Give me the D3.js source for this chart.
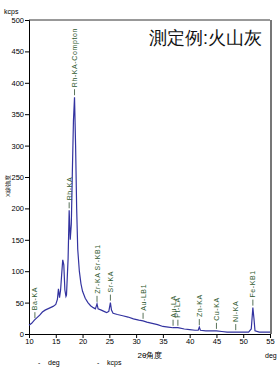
<!DOCTYPE html>
<html>
<head>
<meta charset="utf-8">
<script src="https://cdn.jsdelivr.net/npm/d3@7"></script>
<style>
  body { margin: 0; background: #fff; }
  svg { display: block; }
  text { font-family: "Liberation Sans", Arial, sans-serif; }
</style>
</head>
<body>
<svg id="chart" width="280" height="369"></svg>
<script>
// spectrum: 2theta (deg) and intensity (kcps)
const angles = [10.0, 10.5, 11.0, 11.5, 12.0, 12.5, 13.0, 13.5, 14.0, 14.5, 15.0, 15.3, 15.5, 15.7, 15.9, 16.1, 16.3, 16.5, 16.7, 16.9,
  17.0, 17.3, 17.5, 17.7, 17.9, 18.1, 18.3, 18.5, 18.7, 18.9, 19.1, 19.4, 19.7, 20.0, 20.5, 21.0, 21.5, 22.0, 22.4, 22.7,
  22.9, 23.5, 24.0, 24.5, 24.9, 25.2, 25.4, 25.7, 26.5, 27.5, 28.5, 29.5, 30.5, 31.3, 32.0, 33.0, 34.0, 35.0, 36.0, 36.9,
  37.8, 39.0, 40.0, 41.0, 41.6, 41.8, 42.0, 43.0, 44.0, 45.0, 46.0, 47.0, 48.6, 50.0, 51.0, 51.5, 51.8, 52.0, 52.2, 53.0, 55.0];
const intensity = [14, 17, 22, 26, 30, 35, 38, 40, 42, 44, 47, 55, 72, 58, 70, 95, 118, 110, 70, 60,
  62, 120, 197, 150, 175, 260, 340, 377, 300, 200, 135, 100, 80, 68, 57, 50, 45, 42, 40, 48,
  40, 38, 36, 34, 36, 50, 38, 33, 31, 29, 27, 24, 22, 21, 19, 17, 15, 12, 11, 10,
  10, 8, 7, 6, 6, 11, 6, 5, 5, 5, 4, 3, 3, 3, 3, 8, 42, 25, 5, 3, 3];

// peak labels
const peakNames = ["Ba-KA", "Rh-KA", "Rh-KA-Compton", "Zr-KA Sr-KB1", "Sr-KA", "Au-LB1",
  "Au-LA", "Pt-LA", "Zn-KA", "Cu-KA", "Ni-KA", "Fe-KB1"];
const peakAngles = [11.1, 17.5, 18.5, 22.7, 25.2, 31.3, 36.9, 37.8, 41.8, 45.0, 48.6, 51.8];

const xTicks = d3.range(10, 56, 5);
const yTicks = d3.range(0, 501, 50);

const svg = d3.select("#chart");
const margin = {left: 29, right: 10, top: 20, bottom: 35};
const width = 280, height = 369;

const x = d3.scaleLinear().domain([10, 55]).range([margin.left, width - margin.right]);
const y = d3.scaleLinear().domain([0, 500]).range([height - margin.bottom, margin.top]);

// frame: top and right borders
svg.append("line")
  .attr("x1", x(10)).attr("x2", x(55))
  .attr("y1", y(500)).attr("y2", y(500))
  .attr("stroke", "#333").attr("stroke-width", 1);
svg.append("line")
  .attr("x1", x(55) + 1).attr("x2", x(55) + 1)
  .attr("y1", y(500)).attr("y2", y(0))
  .attr("stroke", "#777").attr("stroke-width", 2);

// axes
const xAxis = svg.append("g")
  .attr("transform", `translate(0,${y(0)})`)
  .call(d3.axisBottom(x).tickValues(xTicks).tickSize(4).tickPadding(1));
const yAxis = svg.append("g")
  .attr("transform", `translate(${x(10)},0)`)
  .call(d3.axisLeft(y).tickValues(yTicks).tickSize(4).tickPadding(1));
[xAxis, yAxis].forEach(g => {
  g.selectAll("text").attr("font-size", 7.5).attr("fill", "#000")
    .attr("font-family", "Liberation Sans, Arial, sans-serif");
  g.selectAll("line, path").attr("stroke", "#000");
});

// spectrum
const pts = angles.map((a, i) => [a, intensity[i]]);
svg.append("path")
  .datum(pts)
  .attr("fill", "none")
  .attr("stroke", "#3333a0")
  .attr("stroke-width", 1.2)
  .attr("d", d3.line().x(d => x(d[0])).y(d => y(d[1])));

// peak markers
function topNear(a) {
  const near = pts.filter(p => Math.abs(p[0] - a) <= 0.25);
  return d3.max(near, p => p[1]);
}
peakNames.forEach((name, i) => {
  const a = peakAngles[i];
  const base = y(topNear(a)) - 2;
  svg.append("line")
    .attr("x1", x(a)).attr("x2", x(a))
    .attr("y1", base).attr("y2", base - 6)
    .attr("stroke", "#2f4f2f").attr("stroke-width", 0.8);
  svg.append("text")
    .attr("transform", `translate(${x(a) + 2.5},${base - 8}) rotate(-90)`)
    .attr("font-size", 7)
    .attr("letter-spacing", 0.6)
    .attr("fill", "#2f5a2f")
    .text(name);
});

// titles and labels
svg.append("text")
  .attr("x", 262).attr("y", 44)
  .attr("text-anchor", "end")
  .attr("font-size", 18)
  .attr("font-family", "Noto Sans CJK JP")
  .attr("fill", "#111")
  .text("測定例:火山灰");

svg.append("text")
  .attr("x", 4).attr("y", 14)
  .attr("font-size", 7)
  .text("kcps");

svg.append("text")
  .attr("transform", "translate(10,186) rotate(-90)")
  .attr("text-anchor", "middle")
  .attr("font-size", 6)
  .attr("font-family", "Noto Sans CJK JP")
  .text("X線強度");

svg.append("text")
  .attr("x", 150).attr("y", 358)
  .attr("text-anchor", "middle")
  .attr("font-size", 8)
  .attr("font-family", "Noto Sans CJK JP")
  .text("2θ角度");

svg.append("text")
  .attr("x", 265).attr("y", 358)
  .attr("font-size", 7)
  .text("deg");

// bottom legend
const legend = [["deg", 38], ["kcps", 97]];
legend.forEach(([t, lx]) => {
  svg.append("text").attr("x", lx).attr("y", 365).attr("font-size", 7).text("-");
  svg.append("text").attr("x", lx + 10).attr("y", 365).attr("font-size", 7).text(t);
});
</script>
</body>
</html>
